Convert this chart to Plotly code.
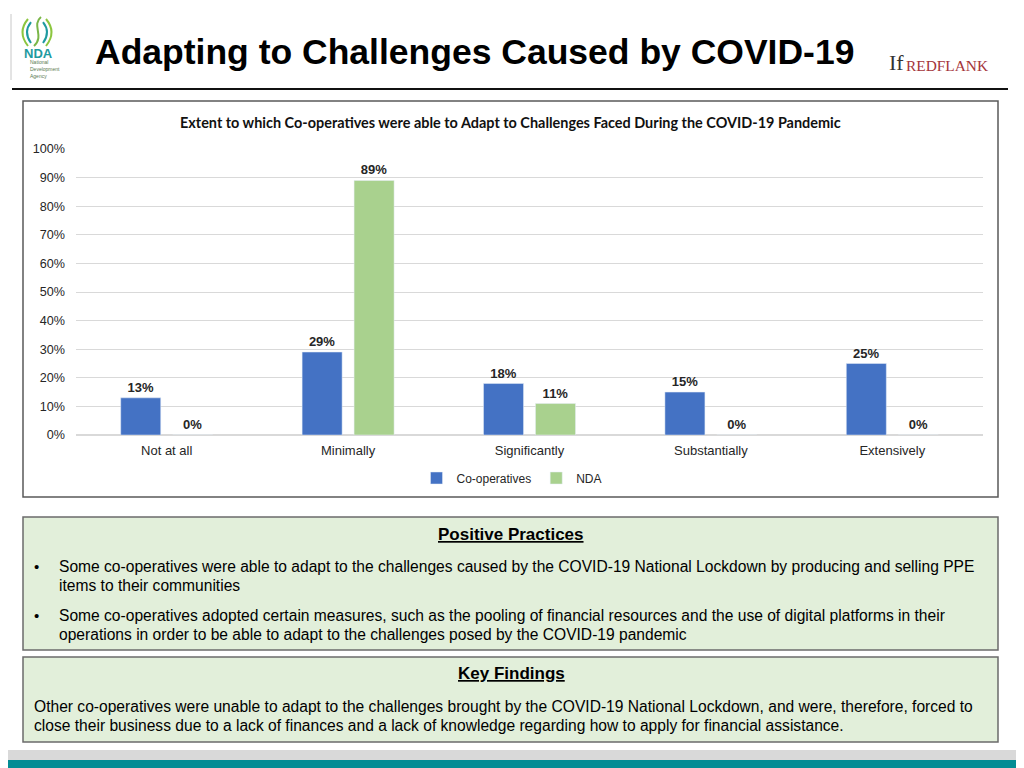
import plotly.graph_objects as go

# ---- data ----
categories = ["Not at all", "Minimally", "Significantly", "Substantially", "Extensively"]
coop_values = [13, 29, 18, 15, 25]
nda_values = [0, 89, 11, 0, 0]
series_names = ["Co-operatives", "NDA"]
y_ticks = [0, 10, 20, 30, 40, 50, 60, 70, 80, 90, 100]
y_tick_labels = [f"{v}%" for v in y_ticks]

main_title = "Adapting to Challenges Caused by COVID-19"
chart_title = "Extent to which Co-operatives were able to Adapt to Challenges Faced During the COVID-19 Pandemic"
pp_heading = "Positive Practices"
pp_lines = [
    ("•", "Some co-operatives were able to adapt to the challenges caused by the COVID-19 National Lockdown by producing and selling PPE"),
    ("", "items to their communities"),
    ("•", "Some co-operatives adopted certain measures, such as the pooling of financial resources and the use of digital platforms in their"),
    ("", "operations in order to be able to adapt to the challenges posed by the COVID-19 pandemic"),
]
kf_heading = "Key Findings"
kf_lines = [
    "Other co-operatives were unable to adapt to the challenges brought by the COVID-19 National Lockdown, and were, therefore, forced to",
    "close their business due to a lack of finances and a lack of knowledge regarding how to apply for financial assistance.",
]

W, H = 1024, 768
OX, OY = 8, 8  # page body margin compensation
def px(x): return (x - OX) / W
def py(y): return 1 - (y - OY) / H
def P(x, y): return f"{px(x):.5f},{py(y):.5f}"

BLUE = "#4472C4"
GREEN = "#A9D18E"
ARIAL = "Arial, Liberation Sans, sans-serif"

fig = go.Figure()
fig.add_trace(go.Bar(
    x=categories, y=coop_values, name=series_names[0], marker_color=BLUE,
    text=[f"{v}%" for v in coop_values], textposition="outside", cliponaxis=False,
    textfont=dict(family=ARIAL, size=13, color="#262626", weight="bold"),
))
fig.add_trace(go.Bar(
    x=categories, y=nda_values, name=series_names[1], marker_color=GREEN,
    text=[f"{v}%" for v in nda_values], textposition="outside", cliponaxis=False,
    textfont=dict(family=ARIAL, size=13, color="#262626", weight="bold"),
))

fig.update_layout(
    width=W, height=H,
    margin=dict(l=0, r=0, t=0, b=0, autoexpand=False),
    paper_bgcolor="white", plot_bgcolor="rgba(0,0,0,0)",
    barmode="group", bargap=0.427, bargroupgap=0.23,
    showlegend=True,
    legend=dict(orientation="h", x=px(512), xanchor="center", y=py(478), yanchor="middle",
                font=dict(family=ARIAL, size=12, color="#262626"),
                itemwidth=30, traceorder="normal", bgcolor="rgba(0,0,0,0)"),
    xaxis=dict(domain=[px(76), px(983)], showgrid=False, showline=True, linecolor="#d9d9d9",
               linewidth=1, ticks="", automargin=False,
               tickfont=dict(family=ARIAL, size=13, color="#262626"),
               ticklabelstandoff=3),
    yaxis=dict(domain=[py(435), py(149)], range=[0, 100], tickmode="array",
               tickvals=y_ticks, ticktext=y_tick_labels, automargin=False,
               showgrid=True, gridcolor="#d9d9d9", gridwidth=1, zeroline=True,
               zerolinecolor="#d9d9d9", ticks="", ticklabelstandoff=10,
               tickfont=dict(family=ARIAL, size=12.6, color="#262626")),
)

shapes = []
# header lines
shapes.append(dict(type="line", xref="paper", yref="paper", x0=px(12), x1=px(1008), y0=py(89), y1=py(89),
                   line=dict(color="#111111", width=2)))
shapes.append(dict(type="line", xref="paper", yref="paper", x0=px(11), x1=px(11), y0=py(14), y1=py(80),
                   line=dict(color="#c8c8c8", width=1)))
# chart border
shapes.append(dict(type="rect", xref="paper", yref="paper", x0=px(23), x1=px(998), y0=py(101), y1=py(497),
                   line=dict(color="#595959", width=1.5), fillcolor="rgba(0,0,0,0)", layer="above"))
# green boxes
shapes.append(dict(type="rect", xref="paper", yref="paper", x0=px(23), x1=px(998), y0=py(517), y1=py(650),
                   line=dict(color="#6b6b6b", width=1.5), fillcolor="#E2EFDA", layer="below"))
shapes.append(dict(type="rect", xref="paper", yref="paper", x0=px(23), x1=px(998), y0=py(657), y1=py(742),
                   line=dict(color="#6b6b6b", width=1.5), fillcolor="#E2EFDA", layer="below"))
# bottom bands
shapes.append(dict(type="rect", xref="paper", yref="paper", x0=0, x1=1, y0=py(760), y1=py(750),
                   line=dict(width=0), fillcolor="#d9d9d9", layer="below"))
shapes.append(dict(type="rect", xref="paper", yref="paper", x0=0, x1=1, y0=0, y1=py(760),
                   line=dict(width=0), fillcolor="#038C94", layer="below"))
# NDA logo swirl
logo_paths = [
    (f"M {P(28,19)} Q {P(17,32)} {P(28,46)}", "#8CC63F"),
    (f"M {P(31,22)} Q {P(23,32)} {P(31,43)}", "#1E9AA0"),
    (f"M {P(46,19)} Q {P(57,32)} {P(46,46)}", "#8CC63F"),
    (f"M {P(43,22)} Q {P(51,32)} {P(43,43)}", "#1E9AA0"),
    (f"M {P(41,17)} C {P(31,25)} {P(45,36)} {P(34,46)}", "#7AB648"),
]
for path, col in logo_paths:
    shapes.append(dict(type="path", xref="paper", yref="paper", path=path,
                       line=dict(color=col, width=2)))
fig.update_layout(shapes=shapes)

ann = []
def add(text, x, y, size, color="#000000", family=ARIAL, xanchor="left", yanchor="middle", **kw):
    ann.append(dict(text=text, x=px(x), y=py(y), xref="paper", yref="paper", showarrow=False,
                    xanchor=xanchor, yanchor=yanchor, font=dict(family=family, size=size, color=color), **kw))

add(f"<b>{main_title}</b>", 474, 52, 35.5, xanchor="center")
add(f"<b>{chart_title}</b>", 510, 122, 14.45, color="#111111", family="Lato, Open Sans, sans-serif", xanchor="center")

# logos
add("<b>NDA</b>", 38, 53, 13, color="#1E9AA0", xanchor="center")
add("National", 28, 62.5, 5, color="#5a7a50")
add("Development", 28, 69, 5, color="#5a7a50")
add("Agency", 28, 75.5, 5, color="#5a7a50")
add("If", 896, 62, 22, color="#333333", family="Liberation Serif, serif", xanchor="center")
add("REDFLANK", 904, 65.5, 15.4, color="#A4343A", family="Liberation Serif, serif", xanchor="left")

# positive practices
add(f"<b><u>{pp_heading}</u></b>", 511, 534, 17, xanchor="center")
ys = [566, 585, 615, 634]
for (b, t), y in zip(pp_lines, ys):
    if b:
        add(b, 32, y, 15)
    add(t, 57, y, 15.6)
# key findings
add(f"<b><u>{kf_heading}</u></b>", 511, 673, 17, xanchor="center")
for t, y in zip(kf_lines, [706, 725]):
    add(t, 32, y, 15.6)

fig.update_layout(annotations=ann)
fig.write_html("out.html")
